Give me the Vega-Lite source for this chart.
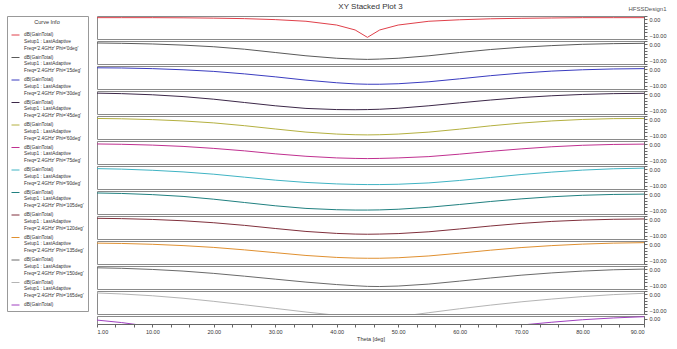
{
  "$schema": "https://vega.github.io/schema/vega-lite/v6.json",
  "padding": {"left": 6, "top": 2, "right": 2, "bottom": 2},
  "bounds": "flush",
  "background": "white",
  "title": {"text": "HFSSDesign1", "anchor": "end", "fontSize": 6, "fontWeight": "normal", "color": "#555", "font": "Liberation Sans", "offset": 0, "dy": 9},
  "config": {
    "font": "Liberation Sans",
    "view": {"stroke": "#8a8a8a", "strokeWidth": 1},
    "range": {"category": ["#e0404a", "#5a5a5a", "#3a3cc0", "#3c2848", "#b4b040", "#c03090", "#40b4c4", "#208080", "#80303c", "#e09030", "#6a6a6a", "#b4b4b4", "#a040c0"]},
    "axis": {"labelFontSize": 5.5, "labelColor": "#333", "tickColor": "#666", "domainColor": "#666", "grid": false, "tickSize": 3, "labelPadding": 2},
    "line": {"strokeWidth": 1}
  },
  "data": {"values": [
    {"p":1,"x":1,"y":1},{"p":1,"x":5,"y":1},{"p":1,"x":10,"y":1},{"p":1,"x":15,"y":0.9},{"p":1,"x":20,"y":0.7},{"p":1,"x":25,"y":0.4},{"p":1,"x":30,"y":-0.2},{"p":1,"x":35,"y":-1.2},{"p":1,"x":40,"y":-3.5},{"p":1,"x":43,"y":-6.5},{"p":1,"x":45,"y":-11},{"p":1,"x":47,"y":-6.5},{"p":1,"x":50,"y":-3.5},{"p":1,"x":55,"y":-1.2},{"p":1,"x":60,"y":-0.3},{"p":1,"x":65,"y":0.3},{"p":1,"x":70,"y":0.6},{"p":1,"x":75,"y":0.8},{"p":1,"x":80,"y":1},{"p":1,"x":85,"y":1},{"p":1,"x":90,"y":1},
    {"p":2,"x":1,"y":0.8},{"p":2,"x":5,"y":0.6},{"p":2,"x":10,"y":0.2},{"p":2,"x":15,"y":-0.5},{"p":2,"x":20,"y":-1.5},{"p":2,"x":25,"y":-3},{"p":2,"x":30,"y":-5},{"p":2,"x":35,"y":-7},{"p":2,"x":40,"y":-8.5},{"p":2,"x":43,"y":-9},{"p":2,"x":45,"y":-9.2},{"p":2,"x":47,"y":-9},{"p":2,"x":50,"y":-8.5},{"p":2,"x":55,"y":-7},{"p":2,"x":60,"y":-5},{"p":2,"x":65,"y":-3.2},{"p":2,"x":70,"y":-1.8},{"p":2,"x":75,"y":-0.8},{"p":2,"x":80,"y":0},{"p":2,"x":85,"y":0.4},{"p":2,"x":90,"y":0.6},
    {"p":3,"x":1,"y":0.9},{"p":3,"x":5,"y":0.8},{"p":3,"x":10,"y":0.4},{"p":3,"x":15,"y":-0.3},{"p":3,"x":20,"y":-1.3},{"p":3,"x":25,"y":-2.8},{"p":3,"x":30,"y":-4.6},{"p":3,"x":35,"y":-6.6},{"p":3,"x":40,"y":-8.2},{"p":3,"x":43,"y":-8.9},{"p":3,"x":45,"y":-9.1},{"p":3,"x":47,"y":-9.1},{"p":3,"x":50,"y":-8.8},{"p":3,"x":55,"y":-7.6},{"p":3,"x":60,"y":-5.8},{"p":3,"x":65,"y":-3.9},{"p":3,"x":70,"y":-2.3},{"p":3,"x":75,"y":-1.1},{"p":3,"x":80,"y":-0.3},{"p":3,"x":85,"y":0.2},{"p":3,"x":90,"y":0.4},
    {"p":4,"x":1,"y":0.7},{"p":4,"x":5,"y":0.4},{"p":4,"x":10,"y":-0.3},{"p":4,"x":15,"y":-1.4},{"p":4,"x":20,"y":-3},{"p":4,"x":25,"y":-5},{"p":4,"x":30,"y":-7},{"p":4,"x":35,"y":-8.6},{"p":4,"x":40,"y":-9.3},{"p":4,"x":43,"y":-9.4},{"p":4,"x":45,"y":-9.3},{"p":4,"x":47,"y":-9.1},{"p":4,"x":50,"y":-8.5},{"p":4,"x":55,"y":-7},{"p":4,"x":60,"y":-5.2},{"p":4,"x":65,"y":-3.5},{"p":4,"x":70,"y":-2},{"p":4,"x":75,"y":-0.9},{"p":4,"x":80,"y":-0.1},{"p":4,"x":85,"y":0.4},{"p":4,"x":90,"y":0.6},
    {"p":5,"x":1,"y":0.5},{"p":5,"x":5,"y":0.3},{"p":5,"x":10,"y":-0.2},{"p":5,"x":15,"y":-1},{"p":5,"x":20,"y":-2.2},{"p":5,"x":25,"y":-3.9},{"p":5,"x":30,"y":-5.9},{"p":5,"x":35,"y":-7.8},{"p":5,"x":40,"y":-9},{"p":5,"x":43,"y":-9.4},{"p":5,"x":45,"y":-9.5},{"p":5,"x":47,"y":-9.4},{"p":5,"x":50,"y":-9},{"p":5,"x":55,"y":-7.8},{"p":5,"x":60,"y":-6},{"p":5,"x":65,"y":-4},{"p":5,"x":70,"y":-2.3},{"p":5,"x":75,"y":-1},{"p":5,"x":80,"y":-0.1},{"p":5,"x":85,"y":0.4},{"p":5,"x":90,"y":0.5},
    {"p":6,"x":1,"y":0.2},{"p":6,"x":5,"y":0},{"p":6,"x":10,"y":-0.5},{"p":6,"x":15,"y":-1.3},{"p":6,"x":20,"y":-2.5},{"p":6,"x":25,"y":-4},{"p":6,"x":30,"y":-5.8},{"p":6,"x":35,"y":-7.3},{"p":6,"x":40,"y":-8.3},{"p":6,"x":43,"y":-8.6},{"p":6,"x":45,"y":-8.7},{"p":6,"x":47,"y":-8.6},{"p":6,"x":50,"y":-8.3},{"p":6,"x":55,"y":-7.5},{"p":6,"x":60,"y":-6},{"p":6,"x":65,"y":-4.3},{"p":6,"x":70,"y":-2.8},{"p":6,"x":75,"y":-1.5},{"p":6,"x":80,"y":-0.6},{"p":6,"x":85,"y":-0.1},{"p":6,"x":90,"y":0.1},
    {"p":7,"x":1,"y":0.4},{"p":7,"x":5,"y":0.1},{"p":7,"x":10,"y":-0.6},{"p":7,"x":15,"y":-1.6},{"p":7,"x":20,"y":-3},{"p":7,"x":25,"y":-4.8},{"p":7,"x":30,"y":-6.6},{"p":7,"x":35,"y":-8},{"p":7,"x":40,"y":-8.9},{"p":7,"x":43,"y":-9.2},{"p":7,"x":45,"y":-9.3},{"p":7,"x":47,"y":-9.3},{"p":7,"x":50,"y":-9.1},{"p":7,"x":55,"y":-8.3},{"p":7,"x":60,"y":-6.8},{"p":7,"x":65,"y":-5},{"p":7,"x":70,"y":-3.2},{"p":7,"x":75,"y":-1.7},{"p":7,"x":80,"y":-0.5},{"p":7,"x":85,"y":0.3},{"p":7,"x":90,"y":0.7},
    {"p":8,"x":1,"y":0.8},{"p":8,"x":5,"y":0.5},{"p":8,"x":10,"y":-0.2},{"p":8,"x":15,"y":-1.3},{"p":8,"x":20,"y":-3},{"p":8,"x":25,"y":-5},{"p":8,"x":30,"y":-7},{"p":8,"x":35,"y":-8.6},{"p":8,"x":40,"y":-9.4},{"p":8,"x":43,"y":-9.6},{"p":8,"x":45,"y":-9.6},{"p":8,"x":47,"y":-9.5},{"p":8,"x":50,"y":-9.1},{"p":8,"x":55,"y":-7.9},{"p":8,"x":60,"y":-6.2},{"p":8,"x":65,"y":-4.4},{"p":8,"x":70,"y":-2.8},{"p":8,"x":75,"y":-1.5},{"p":8,"x":80,"y":-0.6},{"p":8,"x":85,"y":-0.1},{"p":8,"x":90,"y":0.1},
    {"p":9,"x":1,"y":0.6},{"p":9,"x":5,"y":0.4},{"p":9,"x":10,"y":-0.1},{"p":9,"x":15,"y":-0.9},{"p":9,"x":20,"y":-2.1},{"p":9,"x":25,"y":-3.7},{"p":9,"x":30,"y":-5.6},{"p":9,"x":35,"y":-7.4},{"p":9,"x":40,"y":-8.6},{"p":9,"x":43,"y":-9},{"p":9,"x":45,"y":-9.1},{"p":9,"x":47,"y":-9},{"p":9,"x":50,"y":-8.7},{"p":9,"x":55,"y":-7.6},{"p":9,"x":60,"y":-5.9},{"p":9,"x":65,"y":-4.1},{"p":9,"x":70,"y":-2.5},{"p":9,"x":75,"y":-1.3},{"p":9,"x":80,"y":-0.5},{"p":9,"x":85,"y":0},{"p":9,"x":90,"y":0.2},
    {"p":10,"x":1,"y":0.7},{"p":10,"x":5,"y":0.5},{"p":10,"x":10,"y":0},{"p":10,"x":15,"y":-0.8},{"p":10,"x":20,"y":-1.9},{"p":10,"x":25,"y":-3.4},{"p":10,"x":30,"y":-5.1},{"p":10,"x":35,"y":-6.8},{"p":10,"x":40,"y":-8},{"p":10,"x":43,"y":-8.4},{"p":10,"x":45,"y":-8.5},{"p":10,"x":47,"y":-8.5},{"p":10,"x":50,"y":-8.2},{"p":10,"x":55,"y":-7.1},{"p":10,"x":60,"y":-5.4},{"p":10,"x":65,"y":-3.6},{"p":10,"x":70,"y":-2},{"p":10,"x":75,"y":-0.8},{"p":10,"x":80,"y":0.1},{"p":10,"x":85,"y":0.7},{"p":10,"x":90,"y":1},
    {"p":11,"x":1,"y":0.9},{"p":11,"x":5,"y":0.6},{"p":11,"x":10,"y":-0.1},{"p":11,"x":15,"y":-1.1},{"p":11,"x":20,"y":-2.5},{"p":11,"x":25,"y":-4.2},{"p":11,"x":30,"y":-6},{"p":11,"x":35,"y":-7.8},{"p":11,"x":40,"y":-9.3},{"p":11,"x":43,"y":-10},{"p":11,"x":45,"y":-10.4},{"p":11,"x":47,"y":-10.5},{"p":11,"x":50,"y":-10.2},{"p":11,"x":55,"y":-9},{"p":11,"x":60,"y":-7.2},{"p":11,"x":65,"y":-5.3},{"p":11,"x":70,"y":-3.6},{"p":11,"x":75,"y":-2.2},{"p":11,"x":80,"y":-1.1},{"p":11,"x":85,"y":-0.3},{"p":11,"x":90,"y":0.1},
    {"p":12,"x":1,"y":0.8},{"p":12,"x":5,"y":0.2},{"p":12,"x":10,"y":-0.9},{"p":12,"x":15,"y":-2.4},{"p":12,"x":20,"y":-4.3},{"p":12,"x":25,"y":-6.4},{"p":12,"x":30,"y":-8.6},{"p":12,"x":35,"y":-10.8},{"p":12,"x":40,"y":-12.8},{"p":12,"x":43,"y":-13.8},{"p":12,"x":45,"y":-14.2},{"p":12,"x":47,"y":-14.1},{"p":12,"x":50,"y":-13.6},{"p":12,"x":55,"y":-11.2},{"p":12,"x":60,"y":-8.8},{"p":12,"x":65,"y":-6.6},{"p":12,"x":70,"y":-4.6},{"p":12,"x":75,"y":-2.9},{"p":12,"x":80,"y":-1.4},{"p":12,"x":85,"y":-0.2},{"p":12,"x":90,"y":0.6},
    {"p":13,"x":1,"y":-0.8},{"p":13,"x":5,"y":-2.2},{"p":13,"x":10,"y":-4.5},{"p":13,"x":15,"y":-7},{"p":13,"x":20,"y":-9.5},{"p":13,"x":25,"y":-11.5},{"p":13,"x":30,"y":-13},{"p":13,"x":35,"y":-14},{"p":13,"x":40,"y":-14.5},{"p":13,"x":45,"y":-14.6},{"p":13,"x":50,"y":-14},{"p":13,"x":55,"y":-12.5},{"p":13,"x":60,"y":-8},{"p":13,"x":65,"y":-5.5},{"p":13,"x":70,"y":-3.6},{"p":13,"x":75,"y":-2},{"p":13,"x":80,"y":-0.6},{"p":13,"x":85,"y":0.4},{"p":13,"x":90,"y":1.1}
  ]},
  "spacing": 2,
  "vconcat": [
    {"width": 547, "height": 23, "title": {"text": "XY Stacked Plot 3", "fontSize": 8, "fontWeight": "normal", "color": "#333", "offset": 3},
     "transform": [{"filter": "datum.p == 1"}], "mark": {"type": "line", "clip": true},
     "encoding": {"x": {"field": "x", "type": "quantitative", "scale": {"domain": [1, 90], "nice": false, "zero": false}, "axis": null},
      "y": {"field": "y", "type": "quantitative", "scale": {"domain": [-12, 2], "nice": false, "zero": false}, "axis": {"orient": "right", "title": null, "values": [2, 0, -2, -4, -6, -8, -10, -12], "labelOverlap": false, "labelExpr": "datum.value == 0 || datum.value == -10 ? format(datum.value, '.2f') : ''"}},
      "color": {"field": "p", "type": "nominal", "legend": {"orient": "left", "title": "Curve Info", "titleFontSize": 5.5, "titleFontWeight": "normal", "titleColor": "#333", "titleAnchor": "middle", "labelFontSize": 4.8, "labelColor": "#333", "labelLimit": 0, "symbolType": "stroke", "symbolSize": 64, "symbolStrokeWidth": 1, "rowPadding": 2.5, "padding": 4, "strokeColor": "#999", "offset": 8, "labelExpr": "split(['dB(GainTotal)|Setup1 : LastAdaptive|Freq=\\'2.4GHz\\' Phi=\\'0deg\\'','dB(GainTotal)|Setup1 : LastAdaptive|Freq=\\'2.4GHz\\' Phi=\\'15deg\\'','dB(GainTotal)|Setup1 : LastAdaptive|Freq=\\'2.4GHz\\' Phi=\\'30deg\\'','dB(GainTotal)|Setup1 : LastAdaptive|Freq=\\'2.4GHz\\' Phi=\\'45deg\\'','dB(GainTotal)|Setup1 : LastAdaptive|Freq=\\'2.4GHz\\' Phi=\\'60deg\\'','dB(GainTotal)|Setup1 : LastAdaptive|Freq=\\'2.4GHz\\' Phi=\\'75deg\\'','dB(GainTotal)|Setup1 : LastAdaptive|Freq=\\'2.4GHz\\' Phi=\\'90deg\\'','dB(GainTotal)|Setup1 : LastAdaptive|Freq=\\'2.4GHz\\' Phi=\\'105deg\\'','dB(GainTotal)|Setup1 : LastAdaptive|Freq=\\'2.4GHz\\' Phi=\\'120deg\\'','dB(GainTotal)|Setup1 : LastAdaptive|Freq=\\'2.4GHz\\' Phi=\\'135deg\\'','dB(GainTotal)|Setup1 : LastAdaptive|Freq=\\'2.4GHz\\' Phi=\\'150deg\\'','dB(GainTotal)|Setup1 : LastAdaptive|Freq=\\'2.4GHz\\' Phi=\\'165deg\\'','dB(GainTotal)'][datum.value - 1], '|')"}}}},
    {"width": 547, "height": 23, "transform": [{"filter": "datum.p == 2"}], "mark": {"type": "line", "clip": true},
     "encoding": {"x": {"field": "x", "type": "quantitative", "scale": {"domain": [1, 90], "nice": false, "zero": false}, "axis": null},
      "y": {"field": "y", "type": "quantitative", "scale": {"domain": [-12, 2], "nice": false, "zero": false}, "axis": {"orient": "right", "title": null, "values": [2, 0, -2, -4, -6, -8, -10, -12], "labelOverlap": false, "labelExpr": "datum.value == 0 || datum.value == -10 ? format(datum.value, '.2f') : ''"}},
      "color": {"field": "p", "type": "nominal"}}},
    {"width": 547, "height": 23, "transform": [{"filter": "datum.p == 3"}], "mark": {"type": "line", "clip": true},
     "encoding": {"x": {"field": "x", "type": "quantitative", "scale": {"domain": [1, 90], "nice": false, "zero": false}, "axis": null},
      "y": {"field": "y", "type": "quantitative", "scale": {"domain": [-12, 2], "nice": false, "zero": false}, "axis": {"orient": "right", "title": null, "values": [2, 0, -2, -4, -6, -8, -10, -12], "labelOverlap": false, "labelExpr": "datum.value == 0 || datum.value == -10 ? format(datum.value, '.2f') : ''"}},
      "color": {"field": "p", "type": "nominal"}}},
    {"width": 547, "height": 23, "transform": [{"filter": "datum.p == 4"}], "mark": {"type": "line", "clip": true},
     "encoding": {"x": {"field": "x", "type": "quantitative", "scale": {"domain": [1, 90], "nice": false, "zero": false}, "axis": null},
      "y": {"field": "y", "type": "quantitative", "scale": {"domain": [-12, 2], "nice": false, "zero": false}, "axis": {"orient": "right", "title": null, "values": [2, 0, -2, -4, -6, -8, -10, -12], "labelOverlap": false, "labelExpr": "datum.value == 0 || datum.value == -10 ? format(datum.value, '.2f') : ''"}},
      "color": {"field": "p", "type": "nominal"}}},
    {"width": 547, "height": 23, "transform": [{"filter": "datum.p == 5"}], "mark": {"type": "line", "clip": true},
     "encoding": {"x": {"field": "x", "type": "quantitative", "scale": {"domain": [1, 90], "nice": false, "zero": false}, "axis": null},
      "y": {"field": "y", "type": "quantitative", "scale": {"domain": [-12, 2], "nice": false, "zero": false}, "axis": {"orient": "right", "title": null, "values": [2, 0, -2, -4, -6, -8, -10, -12], "labelOverlap": false, "labelExpr": "datum.value == 0 || datum.value == -10 ? format(datum.value, '.2f') : ''"}},
      "color": {"field": "p", "type": "nominal"}}},
    {"width": 547, "height": 23, "transform": [{"filter": "datum.p == 6"}], "mark": {"type": "line", "clip": true},
     "encoding": {"x": {"field": "x", "type": "quantitative", "scale": {"domain": [1, 90], "nice": false, "zero": false}, "axis": null},
      "y": {"field": "y", "type": "quantitative", "scale": {"domain": [-12, 2], "nice": false, "zero": false}, "axis": {"orient": "right", "title": null, "values": [2, 0, -2, -4, -6, -8, -10, -12], "labelOverlap": false, "labelExpr": "datum.value == 0 || datum.value == -10 ? format(datum.value, '.2f') : ''"}},
      "color": {"field": "p", "type": "nominal"}}},
    {"width": 547, "height": 23, "transform": [{"filter": "datum.p == 7"}], "mark": {"type": "line", "clip": true},
     "encoding": {"x": {"field": "x", "type": "quantitative", "scale": {"domain": [1, 90], "nice": false, "zero": false}, "axis": null},
      "y": {"field": "y", "type": "quantitative", "scale": {"domain": [-12, 2], "nice": false, "zero": false}, "axis": {"orient": "right", "title": null, "values": [2, 0, -2, -4, -6, -8, -10, -12], "labelOverlap": false, "labelExpr": "datum.value == 0 || datum.value == -10 ? format(datum.value, '.2f') : ''"}},
      "color": {"field": "p", "type": "nominal"}}},
    {"width": 547, "height": 23, "transform": [{"filter": "datum.p == 8"}], "mark": {"type": "line", "clip": true},
     "encoding": {"x": {"field": "x", "type": "quantitative", "scale": {"domain": [1, 90], "nice": false, "zero": false}, "axis": null},
      "y": {"field": "y", "type": "quantitative", "scale": {"domain": [-12, 2], "nice": false, "zero": false}, "axis": {"orient": "right", "title": null, "values": [2, 0, -2, -4, -6, -8, -10, -12], "labelOverlap": false, "labelExpr": "datum.value == 0 || datum.value == -10 ? format(datum.value, '.2f') : ''"}},
      "color": {"field": "p", "type": "nominal"}}},
    {"width": 547, "height": 23, "transform": [{"filter": "datum.p == 9"}], "mark": {"type": "line", "clip": true},
     "encoding": {"x": {"field": "x", "type": "quantitative", "scale": {"domain": [1, 90], "nice": false, "zero": false}, "axis": null},
      "y": {"field": "y", "type": "quantitative", "scale": {"domain": [-12, 2], "nice": false, "zero": false}, "axis": {"orient": "right", "title": null, "values": [2, 0, -2, -4, -6, -8, -10, -12], "labelOverlap": false, "labelExpr": "datum.value == 0 || datum.value == -10 ? format(datum.value, '.2f') : ''"}},
      "color": {"field": "p", "type": "nominal"}}},
    {"width": 547, "height": 23, "transform": [{"filter": "datum.p == 10"}], "mark": {"type": "line", "clip": true},
     "encoding": {"x": {"field": "x", "type": "quantitative", "scale": {"domain": [1, 90], "nice": false, "zero": false}, "axis": null},
      "y": {"field": "y", "type": "quantitative", "scale": {"domain": [-12, 2], "nice": false, "zero": false}, "axis": {"orient": "right", "title": null, "values": [2, 0, -2, -4, -6, -8, -10, -12], "labelOverlap": false, "labelExpr": "datum.value == 0 || datum.value == -10 ? format(datum.value, '.2f') : ''"}},
      "color": {"field": "p", "type": "nominal"}}},
    {"width": 547, "height": 23, "transform": [{"filter": "datum.p == 11"}], "mark": {"type": "line", "clip": true},
     "encoding": {"x": {"field": "x", "type": "quantitative", "scale": {"domain": [1, 90], "nice": false, "zero": false}, "axis": null},
      "y": {"field": "y", "type": "quantitative", "scale": {"domain": [-12, 2], "nice": false, "zero": false}, "axis": {"orient": "right", "title": null, "values": [2, 0, -2, -4, -6, -8, -10, -12], "labelOverlap": false, "labelExpr": "datum.value == 0 || datum.value == -10 ? format(datum.value, '.2f') : ''"}},
      "color": {"field": "p", "type": "nominal"}}},
    {"width": 547, "height": 23, "transform": [{"filter": "datum.p == 12"}], "mark": {"type": "line", "clip": true},
     "encoding": {"x": {"field": "x", "type": "quantitative", "scale": {"domain": [1, 90], "nice": false, "zero": false}, "axis": null},
      "y": {"field": "y", "type": "quantitative", "scale": {"domain": [-12, 2], "nice": false, "zero": false}, "axis": {"orient": "right", "title": null, "values": [2, 0, -2, -4, -6, -8, -10, -12], "labelOverlap": false, "labelExpr": "datum.value == 0 || datum.value == -10 ? format(datum.value, '.2f') : ''"}},
      "color": {"field": "p", "type": "nominal"}}},
    {"width": 547, "height": 8, "transform": [{"filter": "datum.p == 13"}], "mark": {"type": "line", "clip": true},
     "encoding": {"x": {"field": "x", "type": "quantitative", "scale": {"domain": [1, 90], "nice": false, "zero": false}, "axis": {"title": "Theta [deg]", "titleFontSize": 5.5, "titleFontWeight": "normal", "titleColor": "#333", "titlePadding": 2, "titleAnchor": "middle", "values": [1, 4, 7, 10, 13, 16, 20, 23, 26, 30, 33, 36, 40, 43, 46, 50, 53, 56, 60, 63, 66, 70, 73, 76, 80, 83, 86, 90], "labelOverlap": false, "labelExpr": "datum.value == 1 || datum.value % 10 == 0 ? format(datum.value, '.2f') : ''"}},
      "y": {"field": "y", "type": "quantitative", "scale": {"domain": [-3, 1.5], "nice": false, "zero": false}, "axis": {"orient": "right", "title": null, "values": [0], "format": ".2f"}},
      "color": {"field": "p", "type": "nominal"}}}
  ]
}
